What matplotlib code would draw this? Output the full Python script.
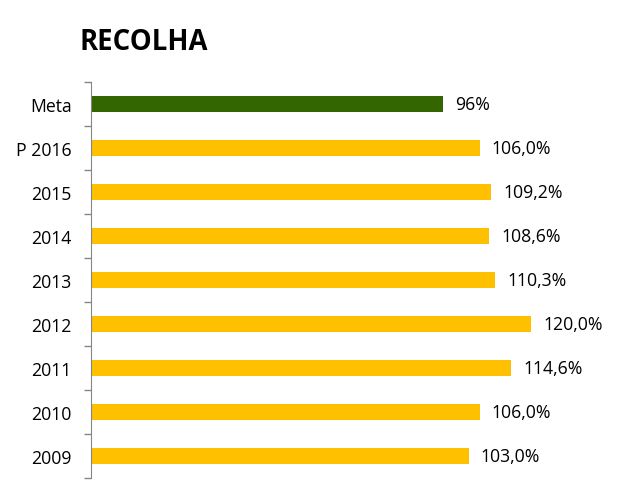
import numpy as np
import matplotlib.pyplot as plt

categories = ['Meta', 'P 2016', '2015', '2014', '2013', '2012', '2011', '2010', '2009']
values = [96, 106.0, 109.2, 108.6, 110.3, 120.0, 114.6, 106.0, 103.0]
labels = ['96%', '106,0%', '109,2%', '108,6%', '110,3%', '120,0%', '114,6%', '106,0%', '103,0%']
colors = ['#336600'] + ['#FFC000'] * 8

plt.rcParams['font.family'] = ['Open Sans', 'DejaVu Sans']

W, H = 628, 501
fig = plt.figure(figsize=(W / 100, H / 100), dpi=100)
# axes: left 91px, right 600px, top 82px, bottom 478px
ax = fig.add_axes([91 / W, 1 - 478 / H, (600 - 91) / W, (478 - 82) / H])

y = np.arange(len(categories))
ax.barh(y, values, height=0.36, color=colors)
ax.set_xlim(0, 509 / 3.667)
ax.set_ylim(len(categories) - 0.5, -0.5)

for yi, v, lab in zip(y, values, labels):
    ax.text(v + 3.3, yi + 0.03, lab, va='center', ha='left', fontsize=12.7, color='#000000')

ax.set_yticks(y + 0.03)
ax.set_yticklabels(categories, fontsize=12.7)
ax.set_yticks(np.arange(-0.5, len(categories)), minor=True)
ax.tick_params(axis='y', which='major', length=0, pad=14)
ax.tick_params(axis='y', which='minor', length=5, color='#868686', width=1)
ax.set_xticks([])
for s in ['top', 'right', 'bottom']:
    ax.spines[s].set_visible(False)
ax.spines['left'].set_color('#868686')

fig.text(80 / W, 1 - 42 / H, 'RECOLHA', fontsize=19.8, fontweight='bold', va='center', ha='left')

fig.savefig('out.png', dpi=100)
